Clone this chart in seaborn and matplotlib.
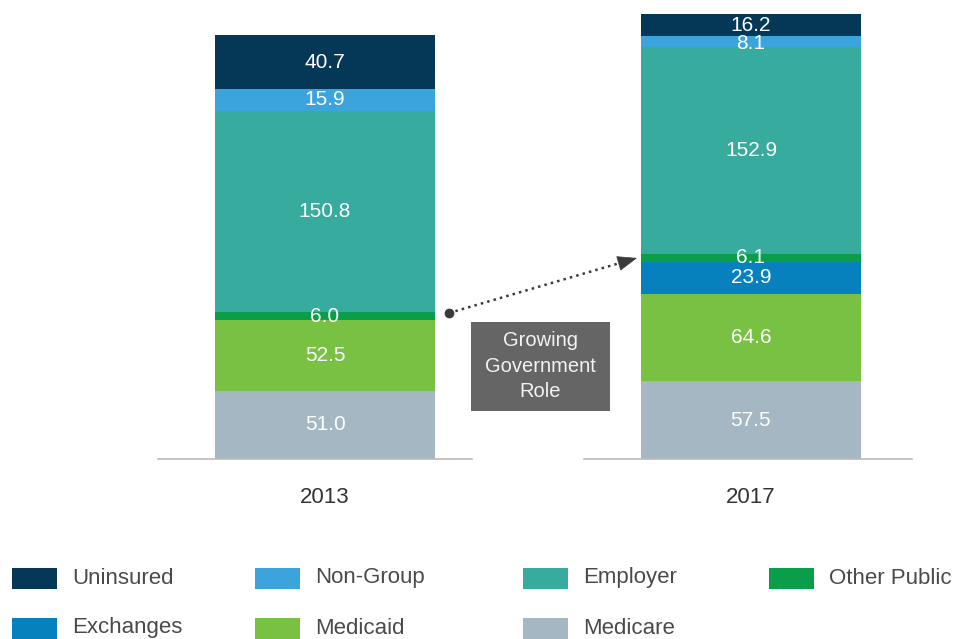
import matplotlib.pyplot as plt
import matplotlib.patches as patches
import seaborn as sns
import numpy as np

# 데이터 (아래 -> 위 순서)
categories = ['Medicare', 'Medicaid', 'Exchanges', 'Other Public', 'Employer', 'Non-Group', 'Uninsured']
years = ['2013', '2017']
values_2013 = [51.0, 52.5, 0.0, 6.0, 150.8, 15.9, 40.7]
values_2017 = [57.5, 64.6, 23.9, 6.1, 152.9, 8.1, 16.2]
colors = {
    'Uninsured': '#053756',
    'Non-Group': '#3ca4dc',
    'Employer': '#38ab9f',
    'Other Public': '#0a9e4a',
    'Exchanges': '#0681be',
    'Medicaid': '#78c142',
    'Medicare': '#a4b7c2',
}
# 범례 순서 (행 단위)
legend_rows = [['Uninsured', 'Non-Group', 'Employer', 'Other Public'],
               ['Exchanges', 'Medicaid', 'Medicare']]

sns.set_style('white')
plt.rcParams['font.family'] = ['Liberation Sans', 'DejaVu Sans']

W, H = 959, 639
fig = plt.figure(figsize=(W / 100, H / 100), dpi=100)

# 축 위치 (픽셀 -> 비율): 왼쪽 x, 폭, 막대 중심 비율, 막대 폭, y 상한
ax_specs = [(158, 314, 0.532, 220, 332.5), (584, 328, 0.509, 220, 329.5)]
axes = []
for spec in ax_specs:
    x0, w = spec[0], spec[1]
    ax = fig.add_axes([x0 / W, 1 - 459 / H, w / W, (459 - 14) / H])
    axes.append(ax)

for ax, year, vals, (x0, w, c, bw, ytop) in zip(axes, years, [values_2013, values_2017], ax_specs):
    bottom = 0.0
    for cat, v in zip(categories, vals):
        if v <= 0:
            continue
        sns.barplot(x=[year], y=[v], bottom=bottom, color=colors[cat],
                    width=bw / w, saturation=1, linewidth=0, ax=ax)
        ycen = bottom + v / 2
        if v < 10 and cat == 'Non-Group':
            ycen -= 1.5
        ax.text(0, ycen, f'{v:.1f}', ha='center', va='center',
                color='white', fontsize=15)
        bottom += v
    ax.set_xlim(-c, 1 - c)
    ax.set_ylim(0, ytop)
    ax.set_yticks([])
    ax.set_xticks([0])
    ax.set_xticklabels([year], fontsize=16, color='#333333')
    ax.tick_params(axis='x', length=0, pad=20)
    ax.set_xlabel('')
    ax.set_ylabel('')
    for s in ['top', 'left', 'right']:
        ax.spines[s].set_visible(False)
    ax.spines['bottom'].set_color('#bbbbbb')
    ax.spines['bottom'].set_linewidth(1.2)

# 화살표 + 박스
p0 = (449 / W, 1 - 313 / H)
p1 = (637 / W, 1 - 258 / H)
pm = (p0[0] + (p1[0] - p0[0]) * 0.93, p0[1] + (p1[1] - p0[1]) * 0.93)
fig.add_artist(plt.Line2D([p0[0]], [p0[1]], marker='o', markersize=6,
                          color='#3a3a3a', transform=fig.transFigure))
fig.add_artist(plt.Line2D([p0[0], pm[0]], [p0[1], pm[1]], linestyle=':', linewidth=1.8,
                          color='#3a3a3a', transform=fig.transFigure))
fig.patches.append(patches.FancyArrowPatch(
    pm, p1, transform=fig.transFigure, arrowstyle='-|>,head_length=13,head_width=5',
    linewidth=0.5, color='#3a3a3a', shrinkA=0, shrinkB=0, mutation_scale=1))
fig.patches.append(patches.Rectangle((471 / W, 1 - 411 / H), 139 / W, 89 / H,
                                     transform=fig.transFigure, facecolor='#656565',
                                     edgecolor='none'))
fig.text(540.5 / W, 1 - 366 / H, 'Growing\nGovernment\nRole', ha='center', va='center',
         color='#f2f2f2', fontsize=14.5, linespacing=1.45)

# 범례 (열마다 따로 배치)
col_x = [12, 255, 523, 769]
row_y = [578, 628]
for r, row in enumerate(legend_rows):
    for ci, cat in enumerate(row):
        fig.patches.append(patches.Rectangle((col_x[ci] / W, 1 - (row_y[r] + 10.5) / H),
                                             45 / W, 21 / H, transform=fig.transFigure,
                                             facecolor=colors[cat], edgecolor='none'))
        fig.text((col_x[ci] + 60) / W, 1 - row_y[r] / H, cat, ha='left', va='center',
                 fontsize=16, color='#4a4a4a')

fig.savefig('out.png', dpi=100)
